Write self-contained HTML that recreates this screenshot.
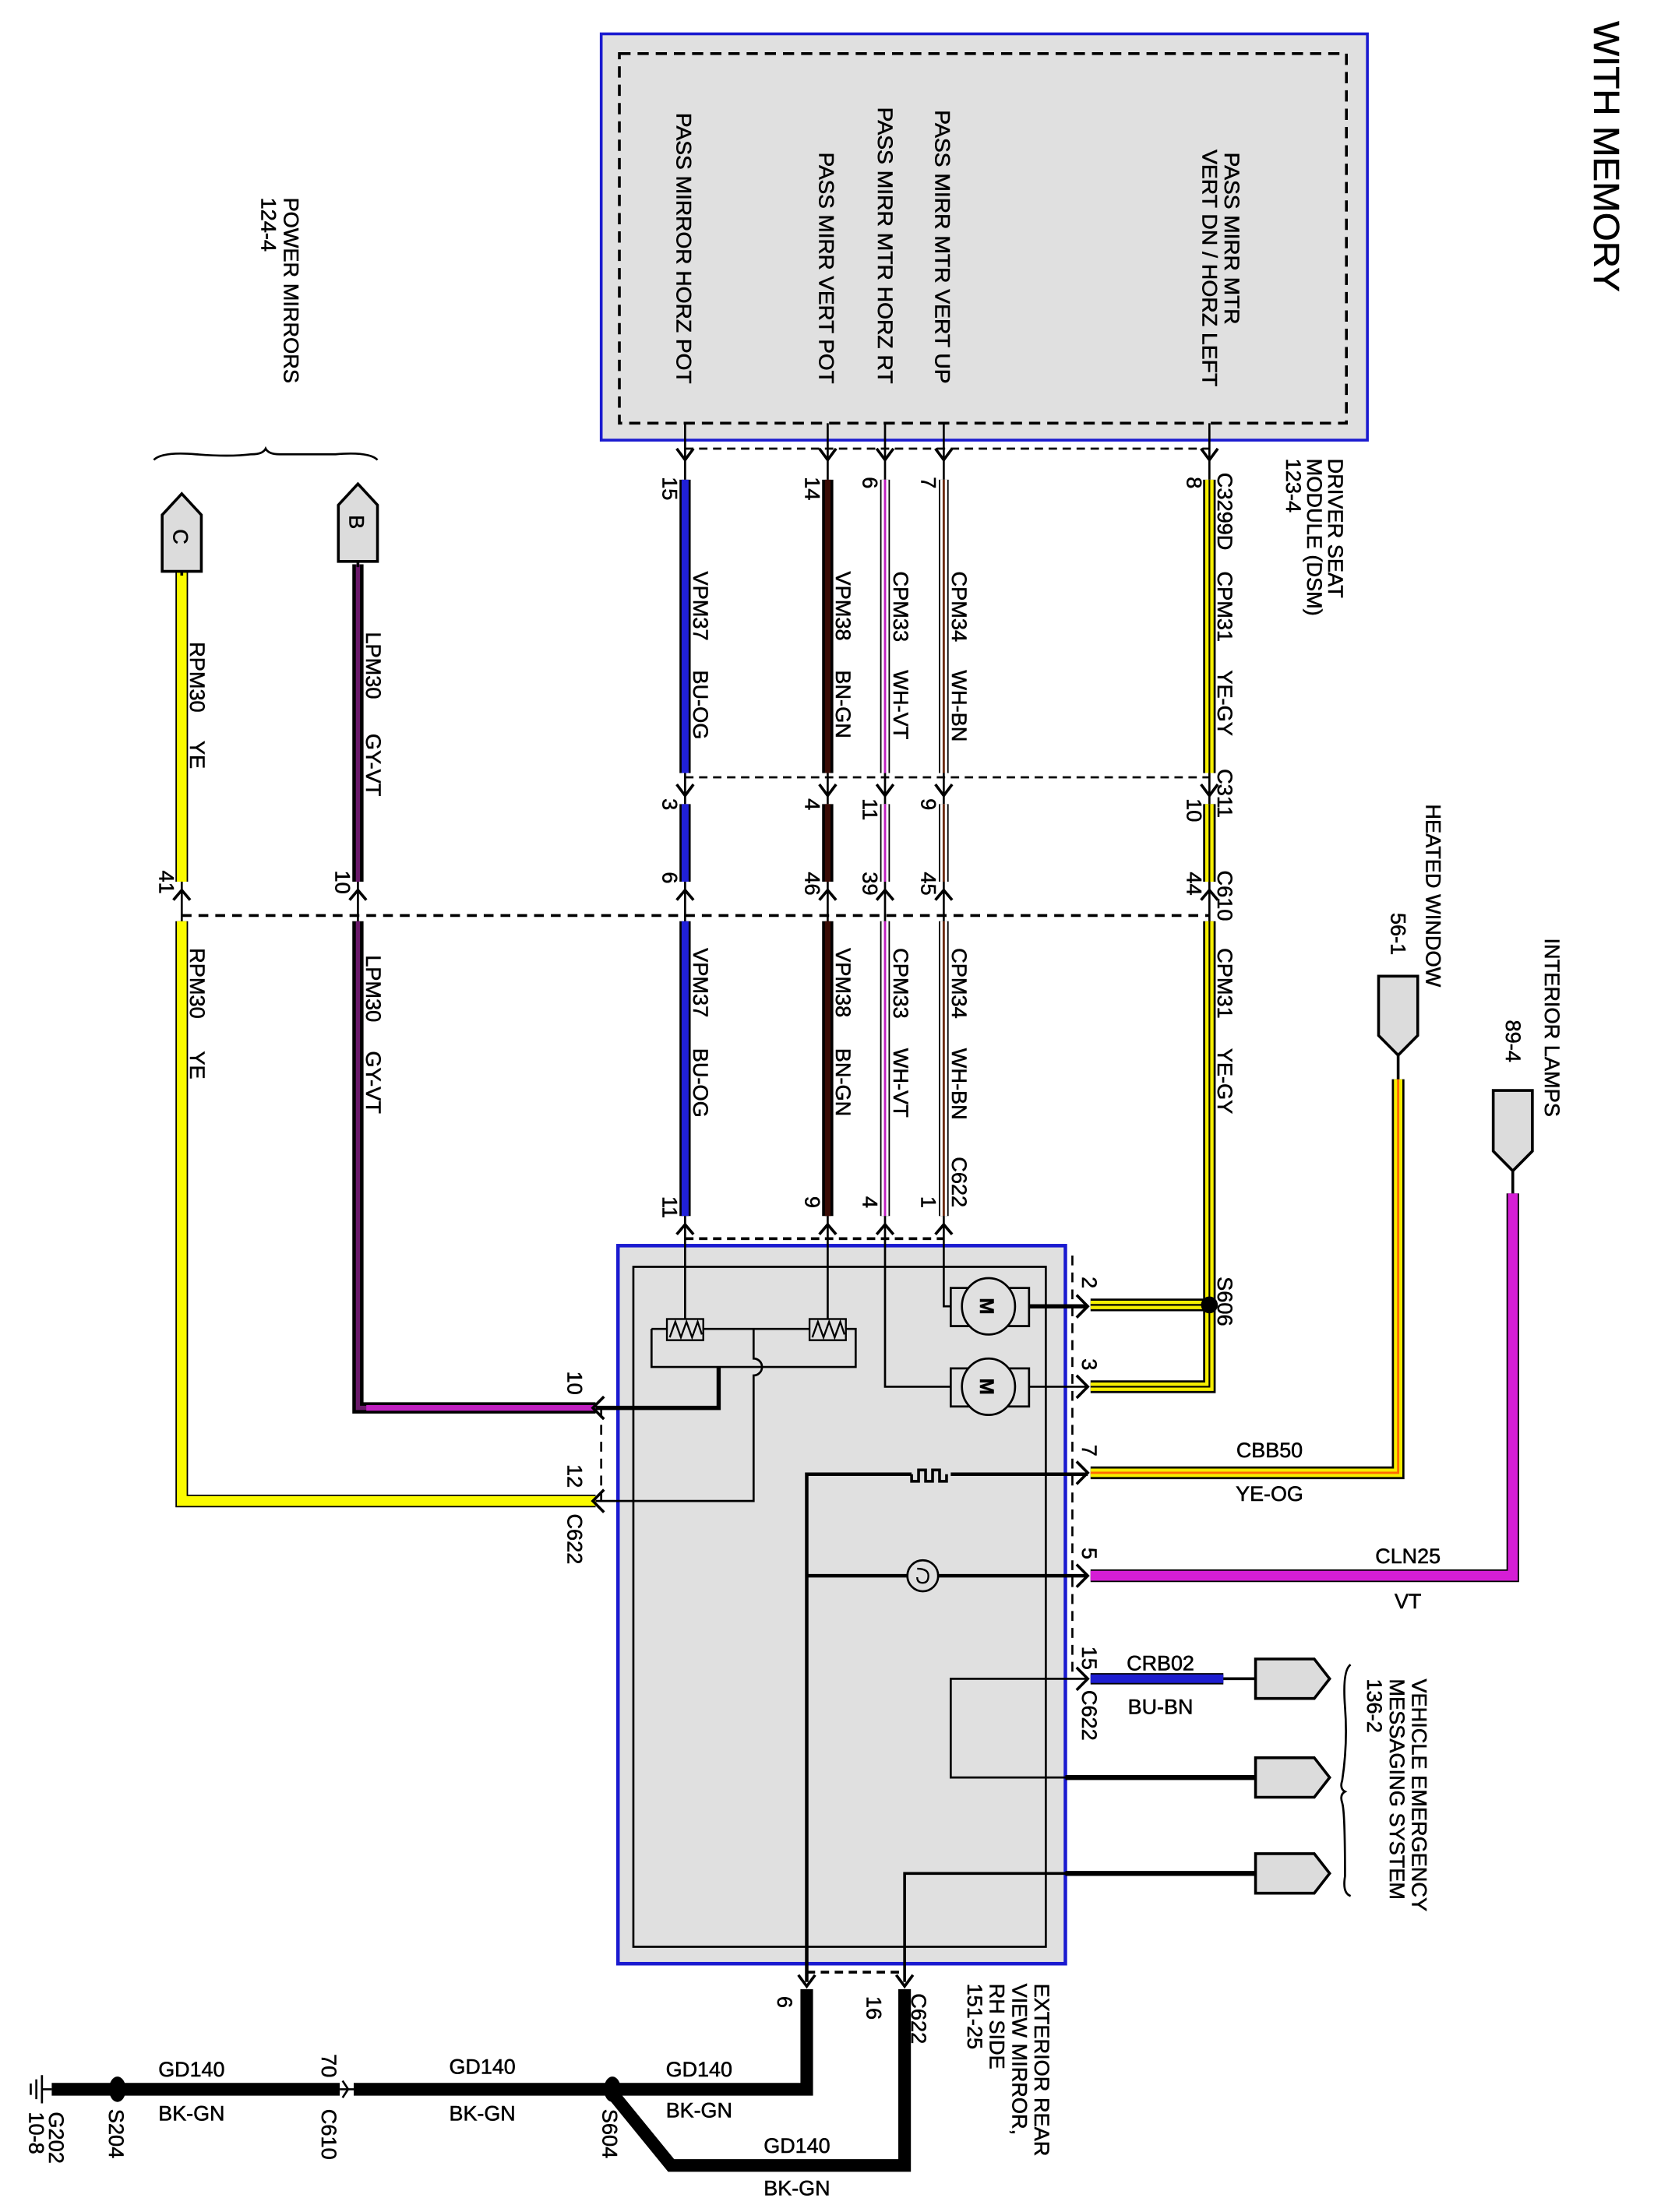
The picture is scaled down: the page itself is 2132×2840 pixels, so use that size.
<!DOCTYPE html>
<html><head><meta charset="utf-8"><style>
html,body{margin:0;padding:0;background:#fff}
svg{display:block}
text{font-family:"Liberation Sans",Arial,sans-serif;fill:#000;stroke:#000;stroke-width:0.3}
</style></head><body>
<svg width="2132" height="2840" viewBox="0 0 1188 1568" preserveAspectRatio="none" xmlns="http://www.w3.org/2000/svg">
<g font-size="15">
<!-- title -->
<text transform="translate(1140,15) rotate(90)" font-size="26" textLength="192" lengthAdjust="spacingAndGlyphs">WITH MEMORY</text>

<!-- DSM box -->
<rect x="430" y="24" width="548" height="288" fill="#e0e0e0" stroke="#1a1ad0" stroke-width="2"/>
<rect x="443" y="38" width="520" height="262" fill="none" stroke="#000" stroke-width="2" stroke-dasharray="8,5"/>
<text transform="translate(484,80) rotate(90)" textLength="192" lengthAdjust="spacingAndGlyphs">PASS MIRROR HORZ POT</text>
<text transform="translate(586,108) rotate(90)" textLength="164" lengthAdjust="spacingAndGlyphs">PASS MIRR VERT POT</text>
<text transform="translate(628,76) rotate(90)" textLength="196" lengthAdjust="spacingAndGlyphs">PASS MIRR MTR HORZ RT</text>
<text transform="translate(669,78) rotate(90)" textLength="194" lengthAdjust="spacingAndGlyphs">PASS MIRR MTR VERT UP</text>
<text transform="translate(876,108) rotate(90)" textLength="122" lengthAdjust="spacingAndGlyphs">PASS MIRR MTR</text>
<text transform="translate(860,106) rotate(90)" textLength="168" lengthAdjust="spacingAndGlyphs">VERT DN / HORZ LEFT</text>
<text transform="translate(950,325) rotate(90)">DRIVER SEAT</text>
<text transform="translate(935,325) rotate(90)">MODULE (DSM)</text>
<text transform="translate(920,325) rotate(90)">123-4</text>

<!-- DSM pin stubs + arrows -->
<g stroke="#000" stroke-width="1.5" fill="none">
<path d="M490 300V340M592 300V340M633 300V340M675 300V340M865 300V340"/>
<path d="M490 318H865" stroke-dasharray="6,4"/>
<path d="M484 318l6 8l6-8M586 318l6 8l6-8M627 318l6 8l6-8M669 318l6 8l6-8M859 318l6 8l6-8" stroke-width="2"/>
<path d="M490 551H865" stroke-dasharray="6,4"/>
<path d="M490 545V570M592 545V570M633 545V570M675 545V570M865 545V570"/>
<path d="M484 556l6 8l6-8M586 556l6 8l6-8M627 556l6 8l6-8M669 556l6 8l6-8M859 556l6 8l6-8" stroke-width="2"/>
<path d="M130 649H865" stroke-dasharray="7,5" stroke-width="2"/>
<path d="M130 622V655M256 622V655M490 622V655M592 622V655M633 622V655M675 622V655M865 622V655"/>
<path d="M124 638l6-7l6 7M250 638l6-7l6 7M484 638l6-7l6 7M586 638l6-7l6 7M627 638l6-7l6 7M669 638l6-7l6 7M859 638l6-7l6 7" stroke-width="2"/>
</g>

<!-- wires vertical -->
<g fill="none">
<path d="M865 340V548M865 570V625M865 653V925M865 925H780M865 925V983H780" stroke="#000" stroke-width="9"/>
<path d="M865 340V548M865 570V625M865 653V925M865 925H780M865 925V983H780" stroke="#f5ee00" stroke-width="6"/>
<path d="M865 340V548M865 570V625M865 653V925M865 925H780M865 925V983H780" stroke="#000" stroke-width="1.2"/>
<path d="M675 340V548M675 570V625M675 653V862" stroke="#000" stroke-width="7"/>
<path d="M675 340V548M675 570V625M675 653V862" stroke="#fff" stroke-width="5"/>
<path d="M675 340V548M675 570V625M675 653V862" stroke="#6b2a10" stroke-width="1.6"/>
<path d="M633 340V548M633 570V625M633 653V862" stroke="#000" stroke-width="7"/>
<path d="M633 340V548M633 570V625M633 653V862" stroke="#fff" stroke-width="5"/>
<path d="M633 340V548M633 570V625M633 653V862" stroke="#c020c0" stroke-width="1.6"/>
<path d="M592 340V548M592 570V625M592 653V862" stroke="#000" stroke-width="8"/>
<path d="M592 340V548M592 570V625M592 653V862" stroke="#3a0c06" stroke-width="4"/>
<path d="M490 340V548M490 570V625M490 653V862" stroke="#000" stroke-width="8"/>
<path d="M490 340V548M490 570V625M490 653V862" stroke="#2020d8" stroke-width="5"/>
<path d="M256 400V625M256 653V998H426" stroke="#000" stroke-width="8"/>
<path d="M256 400V625M256 653V998H426" stroke="#6a1a6a" stroke-width="3"/>
<path d="M262 998H426" stroke="#c020c0" stroke-width="4"/>
<path d="M130 405V625M130 653V1064H426" stroke="#000" stroke-width="9"/>
<path d="M130 405V625M130 653V1064H426" stroke="#fbfb00" stroke-width="7"/>
<path d="M780 1044H1000V765" stroke="#000" stroke-width="9"/>
<path d="M780 1044H1000V765" stroke="#f5ee00" stroke-width="6"/>
<path d="M780 1044H1000V765" stroke="#ff6a00" stroke-width="1.6"/>
<path d="M780 1117H1082V846" stroke="#000" stroke-width="9"/>
<path d="M780 1117H1082V846" stroke="#d51ed5" stroke-width="7"/>
<path d="M780 1190H875" stroke="#000" stroke-width="8"/>
<path d="M780 1190H875" stroke="#1e1ed0" stroke-width="6"/>
<path d="M875 1190H898M1000 748V765M1082 830V846" stroke="#000" stroke-width="2"/>
</g>
<circle cx="865" cy="925" r="6" fill="#000"/>

<!-- wire labels -->
<g>
<text transform="translate(871,335) rotate(90)">C3299D</text>
<text transform="translate(871,405) rotate(90)">CPM31</text>
<text transform="translate(871,475) rotate(90)">YE-GY</text>
<text transform="translate(681,405) rotate(90)">CPM34</text>
<text transform="translate(681,475) rotate(90)">WH-BN</text>
<text transform="translate(639,405) rotate(90)">CPM33</text>
<text transform="translate(639,475) rotate(90)">WH-VT</text>
<text transform="translate(598,405) rotate(90)">VPM38</text>
<text transform="translate(598,475) rotate(90)">BN-GN</text>
<text transform="translate(496,405) rotate(90)">VPM37</text>
<text transform="translate(496,475) rotate(90)">BU-OG</text>
<text transform="translate(871,672) rotate(90)">CPM31</text>
<text transform="translate(871,743) rotate(90)">YE-GY</text>
<text transform="translate(681,672) rotate(90)">CPM34</text>
<text transform="translate(681,743) rotate(90)">WH-BN</text>
<text transform="translate(681,820) rotate(90)">C622</text>
<text transform="translate(639,672) rotate(90)">CPM33</text>
<text transform="translate(639,743) rotate(90)">WH-VT</text>
<text transform="translate(598,672) rotate(90)">VPM38</text>
<text transform="translate(598,743) rotate(90)">BN-GN</text>
<text transform="translate(496,672) rotate(90)">VPM37</text>
<text transform="translate(496,743) rotate(90)">BU-OG</text>
<text transform="translate(871,545) rotate(90)">C311</text>
<text transform="translate(871,617) rotate(90)">C610</text>
<text transform="translate(262,448) rotate(90)">LPM30</text>
<text transform="translate(262,520) rotate(90)">GY-VT</text>
<text transform="translate(262,677) rotate(90)">LPM30</text>
<text transform="translate(262,745) rotate(90)">GY-VT</text>
<text transform="translate(136,455) rotate(90)">RPM30</text>
<text transform="translate(136,525) rotate(90)">YE</text>
<text transform="translate(136,672) rotate(90)">RPM30</text>
<text transform="translate(136,745) rotate(90)">YE</text>
<text transform="translate(474,338) rotate(90)">15</text>
<text transform="translate(576,338) rotate(90)">14</text>
<text transform="translate(617,338) rotate(90)">6</text>
<text transform="translate(659,338) rotate(90)">7</text>
<text transform="translate(849,338) rotate(90)">8</text>
<text transform="translate(474,566) rotate(90)">3</text>
<text transform="translate(576,566) rotate(90)">4</text>
<text transform="translate(617,566) rotate(90)">11</text>
<text transform="translate(659,566) rotate(90)">9</text>
<text transform="translate(849,566) rotate(90)">10</text>
<text transform="translate(474,618) rotate(90)">6</text>
<text transform="translate(576,618) rotate(90)">46</text>
<text transform="translate(617,618) rotate(90)">39</text>
<text transform="translate(659,618) rotate(90)">45</text>
<text transform="translate(849,618) rotate(90)">44</text>
<text transform="translate(114,617) rotate(90)">41</text>
<text transform="translate(240,617) rotate(90)">10</text>
<text transform="translate(474,848) rotate(90)">11</text>
<text transform="translate(576,848) rotate(90)">9</text>
<text transform="translate(617,848) rotate(90)">4</text>
<text transform="translate(659,848) rotate(90)">1</text>
</g>

<!-- power mirrors -->
<text transform="translate(203,140) rotate(90)">POWER MIRRORS</text>
<text transform="translate(187,140) rotate(90)">124-4</text>
<path d="M110 326q6-6 30-4t40 0q8 0 10-4q2 4 10 4t40 0q24-2 30 4" fill="none" stroke="#000" stroke-width="1.5"/>
<g fill="#dcdcdc" stroke="#000" stroke-width="2">
<polygon points="242,398 270,398 270,358 256,343 242,358"/>
<polygon points="116,405 144,405 144,365 130,350 116,365"/>
<polygon points="986,692 1014,692 1014,734 1000,748 986,734"/>
<polygon points="1068,773 1096,773 1096,816 1082,830 1068,816"/>
<polygon points="898,1176 940,1176 951,1190 940,1204 898,1204"/>
<polygon points="898,1246 940,1246 951,1260 940,1274 898,1274"/>
<polygon points="898,1314 940,1314 951,1328 940,1342 898,1342"/>
</g>
<text transform="translate(250,365) rotate(90)">B</text>
<text transform="translate(124,375) rotate(90)">C</text>
<path d="M256 398V402M130 405V408" stroke="#000" stroke-width="2"/>

<text transform="translate(1020,570) rotate(90)">HEATED WINDOW</text>
<text transform="translate(995,647) rotate(90)">56-1</text>
<text transform="translate(1105,665) rotate(90)">INTERIOR LAMPS</text>
<text transform="translate(1077,723) rotate(90)">89-4</text>

<!-- mirror box -->
<rect x="442" y="883" width="320" height="509" fill="#e0e0e0" stroke="#1a1ad0" stroke-width="2.5"/>
<rect x="453" y="898" width="295" height="482" fill="none" stroke="#000" stroke-width="1.5"/>
<g stroke="#000" fill="none" stroke-width="1.5">
<path d="M490 878H675" stroke-dasharray="6,4" stroke-width="2"/>
<path d="M767 890V1190" stroke-dasharray="7,5"/>
<path d="M430 998V1064" stroke-dasharray="7,5"/>
<path d="M577 1398H647" stroke-dasharray="6,4" stroke-width="2"/>
<path d="M490 862V935M592 862V935M633 862V983H680M675 862V926H680"/>
<path d="M484 875l6-7l6 7M586 875l6-7l6 7M627 875l6-7l6 7M669 875l6-7l6 7" stroke-width="2"/>
<path d="M466 942H477M503 942H579M605 942H612V969H466V942"/>
<path d="M539 942V963a6 6 0 0 1 0 12V1064H426" />
<path d="M514 969V998H426" stroke-width="3"/>
<path d="M736 926H778" stroke-width="3"/>
<path d="M736 983H778"/>
<path d="M577 1405V1045H652M680 1045H778" stroke-width="2.5"/>
<path d="M652 1045v5h5v-8h5v8h5v-8h5v8h5v-5" stroke-width="2"/>
<path d="M577 1117H649M671 1117H778" stroke-width="2.5"/>
<path d="M778 1190H680V1260H762"/>
<path d="M762 1260H898M647 1405V1328H898" stroke-width="2"/>
<path d="M762 1328H898M762 1260H898" stroke-width="3.5"/>
<path d="M770 918l8 8l-8 8M770 975l8 8l-8 8M770 1036l8 8l-8 8M770 1109l8 8l-8 8M770 1182l8 8l-8 8" stroke-width="2"/>
<path d="M432 990l-8 8l8 8M432 1056l-8 8l8 8" stroke-width="2"/>
<path d="M571 1400l6 8l6-8M641 1400l6 8l6-8" stroke-width="2"/>
<path d="M966 1180q-6 4-4 30t-2 52q-2 6 2 8q-4 2-2 8t2 52q-2 12 4 14"/>
</g>
<g fill="none" stroke="#000" stroke-width="1.3">
<rect x="477" y="935" width="26" height="15"/>
<path d="M479 948l4-11l4 11l4-11l4 11l4-11l3 9"/>
<rect x="579" y="935" width="26" height="15"/>
<path d="M581 948l4-11l4 11l4-11l4 11l4-11l3 9"/>
</g>
<g stroke="#000" stroke-width="1.5">
<rect x="680" y="913" width="56" height="27" fill="#e0e0e0"/>
<ellipse cx="707" cy="926" rx="19" ry="20" fill="#e0e0e0"/>
<rect x="680" y="970" width="56" height="27" fill="#e0e0e0"/>
<ellipse cx="707" cy="983" rx="19" ry="20" fill="#e0e0e0"/>
<circle cx="660" cy="1117" r="11" fill="#e0e0e0"/>
</g>
<text transform="translate(701,920) rotate(90)" font-size="14" font-weight="bold">M</text>
<text transform="translate(701,977) rotate(90)" font-size="14" font-weight="bold">M</text>
<path d="M656 1112q8 0 8 5t-4 5t-4-4" fill="none" stroke="#000" stroke-width="1.3"/>

<text transform="translate(774,905) rotate(90)">2</text>
<text transform="translate(774,963) rotate(90)">3</text>
<text transform="translate(774,1024) rotate(90)">7</text>
<text transform="translate(774,1097) rotate(90)">5</text>
<text transform="translate(774,1167) rotate(90)">15</text>
<text transform="translate(774,1198) rotate(90)">C622</text>
<text transform="translate(871,905) rotate(90)">S606</text>
<text x="908" y="1033" text-anchor="middle">CBB50</text>
<text x="908" y="1064" text-anchor="middle">YE-OG</text>
<text x="1007" y="1108" text-anchor="middle">CLN25</text>
<text x="1007" y="1140" text-anchor="middle">VT</text>
<text x="830" y="1184" text-anchor="middle">CRB02</text>
<text x="830" y="1215" text-anchor="middle">BU-BN</text>
<text transform="translate(1010,1190) rotate(90)">VEHICLE EMERGENCY</text>
<text transform="translate(994,1190) rotate(90)">MESSAGING SYSTEM</text>
<text transform="translate(978,1190) rotate(90)">136-2</text>
<text transform="translate(406,972) rotate(90)">10</text>
<text transform="translate(406,1038) rotate(90)">12</text>
<text transform="translate(406,1073) rotate(90)">C622</text>

<text transform="translate(556,1415) rotate(90)">6</text>
<text transform="translate(620,1415) rotate(90)">16</text>
<text transform="translate(652,1413) rotate(90)">C622</text>
<text transform="translate(740,1406) rotate(90)">EXTERIOR REAR</text>
<text transform="translate(724,1406) rotate(90)">VIEW MIRROR,</text>
<text transform="translate(708,1406) rotate(90)">RH SIDE</text>
<text transform="translate(692,1406) rotate(90)">151-25</text>
<g fill="none" stroke="#000" stroke-width="9">
<path d="M577 1410V1481H438M647 1410V1535H480L438 1484"/>
<path d="M438 1481H253M243 1481H84H37"/>
</g>
<path d="M245 1475l4 6l-4 6" stroke="#000" stroke-width="1.5" fill="none"/>
<path d="M243 1481h10" stroke="#000" stroke-width="1.5"/>
<ellipse cx="438" cy="1481" rx="6" ry="9" fill="#000"/>
<ellipse cx="84" cy="1481" rx="6" ry="9" fill="#000"/>
<path d="M37 1481H30M30 1471V1491M26 1474V1488M22 1477V1485" stroke="#000" stroke-width="1.5"/>
<text x="137" y="1472" text-anchor="middle">GD140</text>
<text x="137" y="1503" text-anchor="middle">BK-GN</text>
<text x="345" y="1470" text-anchor="middle">GD140</text>
<text x="345" y="1503" text-anchor="middle">BK-GN</text>
<text x="500" y="1472" text-anchor="middle">GD140</text>
<text x="500" y="1501" text-anchor="middle">BK-GN</text>
<text x="570" y="1526" text-anchor="middle">GD140</text>
<text x="570" y="1556" text-anchor="middle">BK-GN</text>
<text transform="translate(230,1456) rotate(90)">70</text>
<text transform="translate(230,1495) rotate(90)">C610</text>
<text transform="translate(431,1495) rotate(90)">S604</text>
<text transform="translate(78,1495) rotate(90)">S204</text>
<text transform="translate(35,1497) rotate(90)">G202</text>
<text transform="translate(21,1497) rotate(90)">10-8</text>
</g>
</svg>
</body></html>
